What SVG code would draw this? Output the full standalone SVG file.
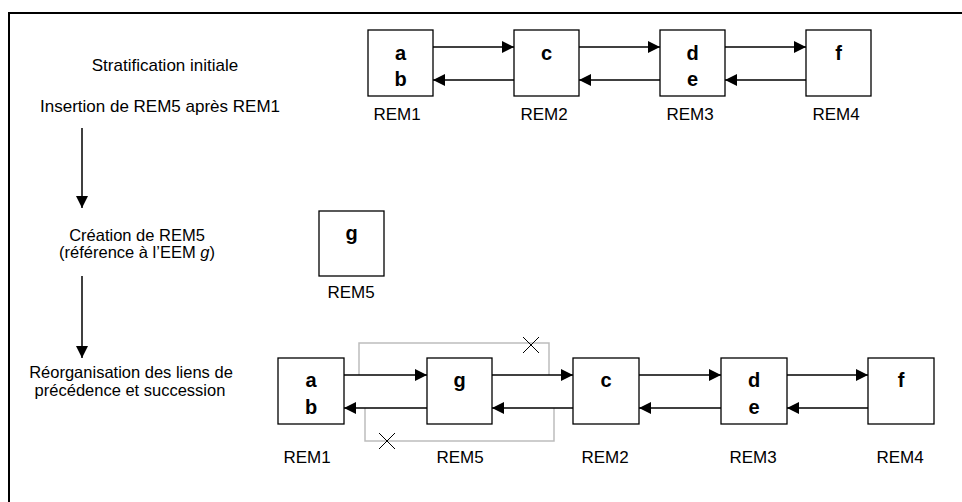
<svg xmlns="http://www.w3.org/2000/svg" width="962" height="502" viewBox="0 0 962 502">
<style>
text{font-family:"Liberation Sans",Arial,sans-serif;fill:#000}
.lbl{font-size:17px;text-anchor:middle}
.sm{font-size:16.5px}
.let{font-size:20px;font-weight:bold;text-anchor:middle}
.box{fill:#fff;stroke:#000;stroke-width:1.3}
.ar{stroke:#000;stroke-width:1.5;fill:none;marker-end:url(#ah)}
.gr{stroke:#bdbdbd;stroke-width:1.5;fill:none}
.x{stroke:#000;stroke-width:1;fill:none}
</style>
<defs>
<marker id="ah" markerUnits="userSpaceOnUse" markerWidth="13" markerHeight="12" refX="12" refY="6" orient="auto">
<path d="M0,0 L12,6 L0,12 Z" fill="#000"/>
</marker>
</defs>
<rect width="962" height="502" fill="#fff"/>
<path d="M9,502 V13 H962" stroke="#000" stroke-width="2" fill="none"/>

<g id="steps">
<text class="lbl" x="165" y="71">Stratification initiale</text>
<text class="lbl" x="160" y="112">Insertion de REM5 après REM1</text>
<text class="lbl sm" x="137" y="240.5">Création de REM5</text>
<text class="lbl sm" x="137" y="258">(référence à l’EEM <tspan font-style="italic">g</tspan>)</text>
<text class="lbl sm" x="131" y="378">Réorganisation des liens de</text>
<text class="lbl sm" x="130" y="396">précédence et succession</text>
</g>

<g id="connectors">
<line class="ar" x1="82" y1="128" x2="82" y2="208"/>
<line class="ar" x1="82" y1="276" x2="82" y2="358"/>
<line class="ar" x1="433" y1="47" x2="514" y2="47"/>
<line class="ar" x1="514" y1="80" x2="433" y2="80"/>
<line class="ar" x1="579" y1="47" x2="660" y2="47"/>
<line class="ar" x1="660" y1="80" x2="579" y2="80"/>
<line class="ar" x1="725" y1="47" x2="806" y2="47"/>
<line class="ar" x1="806" y1="80" x2="725" y2="80"/>
<path class="gr" d="M359,375 V343 H549 V375"/>
<path class="gr" d="M365,408 V441 H554 V408"/>
<line class="ar" x1="344" y1="375" x2="427" y2="375"/>
<line class="ar" x1="427" y1="408" x2="344" y2="408"/>
<line class="ar" x1="492" y1="375" x2="573" y2="375"/>
<line class="ar" x1="573" y1="408" x2="492" y2="408"/>
<line class="ar" x1="639" y1="375" x2="721" y2="375"/>
<line class="ar" x1="721" y1="408" x2="639" y2="408"/>
<line class="ar" x1="787" y1="375" x2="868" y2="375"/>
<line class="ar" x1="868" y1="408" x2="787" y2="408"/>
<path class="x" d="M523,337 L539,353 M539,337 L523,353"/>
<path class="x" d="M379,433 L395,449 M395,433 L379,449"/>
</g>

<g id="t-rem1">
<rect class="box" x="368" y="30" width="65" height="66"/>
<text class="let" x="400.5" y="60">a</text>
<text class="let" x="400.5" y="86">b</text>
<text class="lbl" x="397" y="120">REM1</text>
</g>
<g id="t-rem2">
<rect class="box" x="514" y="30" width="65" height="66"/>
<text class="let" x="546.5" y="60">c</text>
<text class="lbl" x="544" y="120">REM2</text>
</g>
<g id="t-rem3">
<rect class="box" x="660" y="30" width="65" height="66"/>
<text class="let" x="692.5" y="60">d</text>
<text class="let" x="692.5" y="86">e</text>
<text class="lbl" x="690" y="120">REM3</text>
</g>
<g id="t-rem4">
<rect class="box" x="806" y="30" width="65" height="66"/>
<text class="let" x="838.5" y="60">f</text>
<text class="lbl" x="836" y="120">REM4</text>
</g>

<g id="m-rem5">
<rect class="box" x="319" y="211" width="65" height="65"/>
<text class="let" x="351.5" y="240">g</text>
<text class="lbl" x="351" y="298">REM5</text>
</g>

<g id="b-rem1">
<rect class="box" x="278" y="358" width="66" height="66"/>
<text class="let" x="311" y="387">a</text>
<text class="let" x="311" y="414">b</text>
<text class="lbl" x="307" y="463">REM1</text>
</g>
<g id="b-rem5">
<rect class="box" x="427" y="358" width="65" height="66"/>
<text class="let" x="459.5" y="387">g</text>
<text class="lbl" x="460" y="463">REM5</text>
</g>
<g id="b-rem2">
<rect class="box" x="573" y="358" width="66" height="66"/>
<text class="let" x="606" y="387">c</text>
<text class="lbl" x="605" y="463">REM2</text>
</g>
<g id="b-rem3">
<rect class="box" x="721" y="358" width="66" height="66"/>
<text class="let" x="754" y="387">d</text>
<text class="let" x="754" y="414">e</text>
<text class="lbl" x="753" y="463">REM3</text>
</g>
<g id="b-rem4">
<rect class="box" x="868" y="358" width="66" height="66"/>
<text class="let" x="901" y="387">f</text>
<text class="lbl" x="900" y="463">REM4</text>
</g>
</svg>
